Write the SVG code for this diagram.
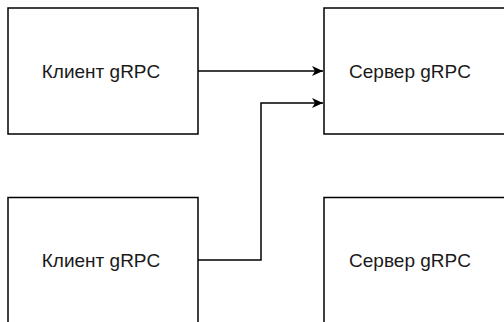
<svg xmlns="http://www.w3.org/2000/svg" width="504" height="322" viewBox="0 0 504 322">
  <defs>
    <style>
      .box { fill: #ffffff; stroke: #000000; stroke-width: 1.5; }
      .label { font-family: "Liberation Sans", Arial, Helvetica, sans-serif; font-size: 19px; fill: #1a1a1a; text-anchor: middle; }
      .edge { fill: none; stroke: #000000; stroke-width: 1.5; }
    </style>
    <marker id="arrow" markerWidth="12" markerHeight="12" refX="11" refY="6" orient="auto" markerUnits="userSpaceOnUse">
      <path d="M0,1 L11,6 L0,11 L3,6 Z" fill="#000000"/>
    </marker>
  </defs>
  <rect width="504" height="322" fill="#ffffff"/>

  <g id="client1">
    <rect class="box" x="8" y="8" width="190" height="126"/>
    <text class="label" x="101" y="78">Клиент gRPC</text>
  </g>
  <g id="server1">
    <rect class="box" x="324" y="8" width="190" height="126"/>
    <text class="label" x="410" y="78">Сервер gRPC</text>
  </g>
  <g id="client2">
    <rect class="box" x="8" y="197.5" width="190" height="126"/>
    <text class="label" x="101" y="267">Клиент gRPC</text>
  </g>
  <g id="server2">
    <rect class="box" x="324" y="197.5" width="190" height="126"/>
    <text class="label" x="410" y="267">Сервер gRPC</text>
  </g>

  <g id="connectors">
    <path class="edge" d="M198,71 H323" marker-end="url(#arrow)"/>
    <path class="edge" d="M198,260 H261 V103 H323" marker-end="url(#arrow)"/>
  </g>
</svg>
